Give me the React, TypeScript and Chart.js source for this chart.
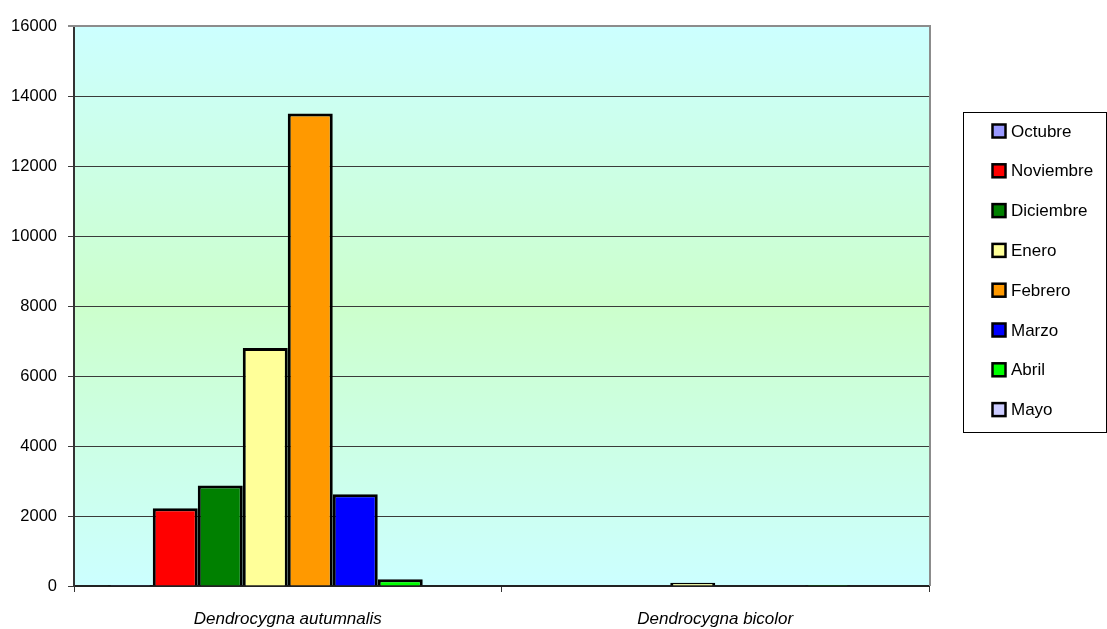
import React, { useEffect, useRef } from "react";
import { Chart, registerables } from "chart.js";

Chart.register(...registerables);

const categories: string[] = ["Dendrocygna autumnalis", "Dendrocygna bicolor"];

const months: string[] = [
  "Octubre",
  "Noviembre",
  "Diciembre",
  "Enero",
  "Febrero",
  "Marzo",
  "Abril",
  "Mayo",
];

const monthColors: string[] = [
  "#9999FF",
  "#FF0000",
  "#008000",
  "#FFFF99",
  "#FF9900",
  "#0000FF",
  "#00FF00",
  "#CCCCFF",
];

// counts per month, one value per species
const octubre: number[] = [30, 0];
const noviembre: number[] = [2220, 0];
const diciembre: number[] = [2870, 0];
const enero: number[] = [6800, 90];
const febrero: number[] = [13500, 0];
const marzo: number[] = [2620, 0];
const abril: number[] = [190, 30];
const mayo: number[] = [0, 0];

const monthValues: number[][] = [octubre, noviembre, diciembre, enero, febrero, marzo, abril, mayo];

const yTicks: number[] = [0, 2000, 4000, 6000, 8000, 10000, 12000, 14000, 16000];

const FONT = "'Liberation Sans', Arial, Helvetica, sans-serif";

// plot background gradient plus the grey frame on top and right
const plotFrame = {
  id: "plotFrame",
  beforeDraw(chart: any) {
    const { ctx, chartArea } = chart;
    const { left, right, top, bottom } = chartArea;
    const g = ctx.createLinearGradient(0, top, 0, bottom);
    g.addColorStop(0, "#CCFFFF");
    g.addColorStop(0.5, "#CCFFCC");
    g.addColorStop(1, "#CCFFFF");
    ctx.save();
    ctx.fillStyle = g;
    ctx.fillRect(left, top, right - left, bottom - top);
    ctx.restore();
  },
  afterDraw(chart: any) {
    const { ctx, chartArea } = chart;
    const { left, right, top, bottom } = chartArea;
    ctx.save();
    ctx.strokeStyle = "#8C8C8C";
    ctx.lineWidth = 2;
    ctx.beginPath();
    ctx.moveTo(left - 6, top);
    ctx.lineTo(right + 1, top);
    ctx.lineTo(right + 1, bottom);
    ctx.stroke();
    ctx.restore();
  },
};

// boxed legend at the right of the plot
const boxLegend = {
  id: "boxLegend",
  afterDraw(chart: any) {
    const { ctx } = chart;
    const x0 = 963.5;
    const y0 = 112.5;
    const w = 143;
    const h = 320;
    ctx.save();
    ctx.fillStyle = "#FFFFFF";
    ctx.fillRect(x0, y0, w, h);
    ctx.strokeStyle = "#000000";
    ctx.lineWidth = 1;
    ctx.strokeRect(x0, y0, w, h);
    ctx.font = `17px ${FONT}`;
    ctx.textBaseline = "middle";
    ctx.textAlign = "left";
    chart.data.datasets.forEach((ds: any, i: number) => {
      const cy = 131 + i * 39.8;
      ctx.fillStyle = ds.backgroundColor;
      ctx.fillRect(992.5, cy - 6.5, 13, 13);
      ctx.lineWidth = 2.5;
      ctx.strokeStyle = "#000000";
      ctx.strokeRect(992.5, cy - 6.5, 13, 13);
      ctx.fillStyle = "#000000";
      ctx.fillText(ds.label, 1011, cy + 1);
    });
    ctx.restore();
  },
};

export default function App() {
  const canvasRef = useRef<HTMLCanvasElement | null>(null);

  useEffect(() => {
    if (!canvasRef.current) return;
    const chart = new Chart(canvasRef.current, {
      type: "bar",
      data: {
        labels: categories,
        datasets: months.map((m, i) => ({
          label: m,
          data: monthValues[i],
          backgroundColor: monthColors[i],
          borderColor: "#000000",
          borderWidth: 3,
          categoryPercentage: 0.842,
          barPercentage: 1,
        })),
      },
      options: {
        animation: false,
        responsive: true,
        maintainAspectRatio: false,
        layout: { padding: { left: 0, right: 178, top: 26, bottom: 0 } },
        plugins: {
          legend: { display: false },
          tooltip: { enabled: false },
        },
        scales: {
          x: {
            grid: {
              offset: true,
              drawOnChartArea: false,
              drawTicks: true,
              tickLength: 6,
              color: "#333333",
              lineWidth: 1,
            },
            border: { display: true, color: "#222222", width: 2 },
            ticks: {
              color: "#000000",
              padding: 17,
              maxRotation: 0,
              font: { family: FONT, size: 17, style: "italic" },
            },
            afterFit(scale: any) {
              scale.height = 43;
            },
          },
          y: {
            min: 0,
            max: 16000,
            afterBuildTicks(scale: any) {
              scale.ticks = yTicks.map((v) => ({ value: v }));
            },
            grid: {
              color: "#3A3A3A",
              lineWidth: 1,
              drawTicks: true,
              tickLength: 6,
            },
            border: { display: true, color: "#333333", width: 2 },
            ticks: {
              color: "#000000",
              padding: 11,
              font: { family: FONT, size: 16.5 },
              callback: (v: any) => String(v),
            },
            afterFit(scale: any) {
              scale.width = 74;
            },
          },
        },
      },
      plugins: [plotFrame, boxLegend],
    });
    return () => chart.destroy();
  }, []);

  return (
    <div
      style={{
        position: "absolute",
        left: 0,
        top: 0,
        width: 1107,
        height: 629,
        background: "#FFFFFF",
      }}
    >
      <canvas ref={canvasRef} />
    </div>
  );
}
